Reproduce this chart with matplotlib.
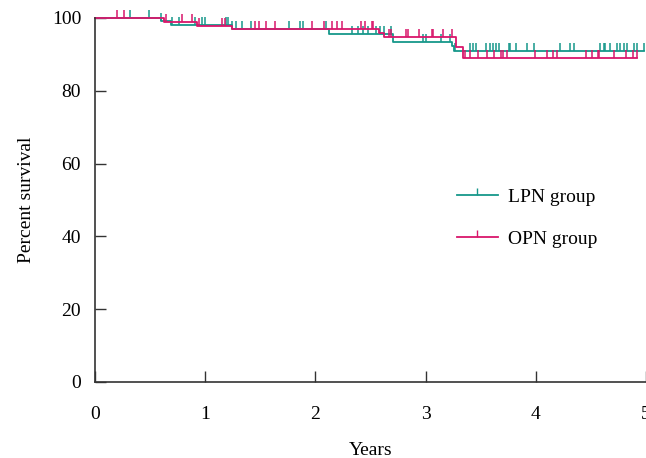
import numpy as np
import matplotlib
matplotlib.use("Agg")
from matplotlib import pyplot as plt
from matplotlib.lines import Line2D

plt.rcParams['font.family'] = ['Liberation Serif', 'DejaVu Serif']

# Kaplan-Meier steps (years, percent surviving)
lpn_times = [0, 0.60, 0.69, 1.24, 2.12, 2.70, 3.24, 3.26, 4.98]
lpn_surv = [100, 99.1, 98.1, 97.0, 95.6, 93.5, 92.2, 91.0, 91.0]
opn_times = [0, 0.63, 0.93, 1.24, 2.58, 2.62, 3.28, 3.34, 4.92]
opn_surv = [100, 99.0, 97.9, 96.9, 95.9, 94.9, 92.1, 89.1, 89.1]

# censored observations
lpn_censor = [0.32, 0.49, 0.60, 0.70, 0.76, 0.91, 0.97, 1.00, 1.19, 1.21, 1.24,
              1.28, 1.33, 1.42, 1.76, 1.86, 1.89, 2.10, 2.33, 2.39, 2.43, 2.48,
              2.55, 2.59, 2.62, 2.69, 2.98, 3.00, 3.14, 3.22, 3.27, 3.40, 3.43,
              3.46, 3.55, 3.58, 3.61, 3.64, 3.67, 3.76, 3.77, 3.82, 3.92, 3.98,
              4.22, 4.31, 4.35, 4.58, 4.62, 4.63, 4.67, 4.74, 4.76, 4.80, 4.83,
              4.89, 4.92, 4.98]
opn_censor = [0.20, 0.26, 0.64, 0.79, 0.88, 0.94, 1.15, 1.18, 1.45, 1.49, 1.55,
              1.63, 1.97, 2.08, 2.15, 2.20, 2.24, 2.41, 2.45, 2.51, 2.52, 2.67,
              2.69, 2.82, 2.84, 2.94, 3.06, 3.07, 3.16, 3.24, 3.36, 3.40, 3.48,
              3.56, 3.62, 3.68, 3.70, 3.74, 3.99, 4.10, 4.16, 4.19, 4.46, 4.51,
              4.56, 4.57, 4.71, 4.82, 4.88, 4.92]

groups = ["LPN group", "OPN group"]
colors = ["#16978a", "#d9166b"]


def surv_at(times, surv, t):
    idx = np.searchsorted(times, t, side='right') - 1
    return np.array(surv)[idx]


fig = plt.figure(figsize=(6.46, 4.58), dpi=100)
ax = fig.add_axes([95 / 646, 76 / 458, 551 / 646, 364 / 458])

data = [(lpn_times, lpn_surv, lpn_censor), (opn_times, opn_surv, opn_censor)]
for (t, s, c), col in zip(data, colors):
    ax.step(t, s, where='post', color=col, lw=1.3, clip_on=False)
    c = np.array(c)
    ax.plot(c, surv_at(t, s, c), linestyle='none', marker=2, markersize=6,
            markeredgewidth=1.1, color=col, clip_on=False)

ax.set_xlim(0, 5)
ax.set_ylim(0, 100)
ax.set_xticks(range(0, 6))
ax.set_yticks(range(0, 101, 20))
for side in ['top', 'right']:
    ax.spines[side].set_visible(False)
for side in ['left', 'bottom']:
    ax.spines[side].set_color('#333333')
    ax.spines[side].set_linewidth(1.2)
ax.tick_params(axis='x', direction='in', length=8, width=1.0, color='#333333',
               labelsize=14, pad=17)
ax.tick_params(axis='y', direction='in', length=8, width=1.0, color='#333333',
               labelsize=14, pad=10)

ax.set_xlabel("Years", fontsize=14, labelpad=14)
ax.set_ylabel("Percent survival", fontsize=14, labelpad=12)

handles = [Line2D([0], [0], color=col, lw=1.3, marker=2, markersize=5,
                  markeredgewidth=1.0) for col in colors]
ax.legend(handles, groups, loc='center left', bbox_to_anchor=(0.625, 0.45),
          frameon=False, fontsize=14, handlelength=2.1, labelspacing=1.25,
          numpoints=1, handletextpad=0.55)

fig.savefig("out.png", dpi=100)
